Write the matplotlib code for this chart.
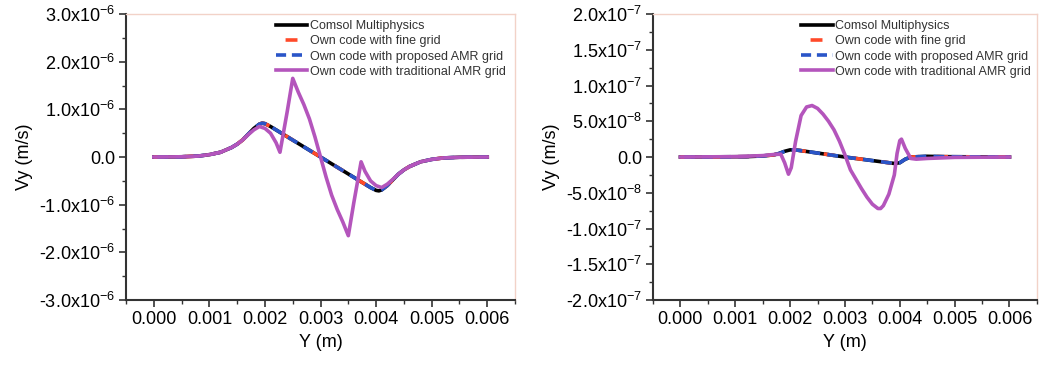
import matplotlib
matplotlib.use("Agg")
import matplotlib.pyplot as plt
from matplotlib.ticker import MultipleLocator
from matplotlib.lines import Line2D
import numpy as np

plt.rcParams['font.family'] = ['Liberation Sans', 'DejaVu Sans']
plt.rcParams['mathtext.fontset'] = 'custom'
plt.rcParams['mathtext.rm'] = 'Liberation Sans'
plt.rcParams['xtick.labelsize'] = 13
plt.rcParams['ytick.labelsize'] = 13

# ---------------- Left panel data (Vy in 1e-6 m/s) ----------------
left_comsol_y = [0, 0.0005, 0.0008, 0.001, 0.0012, 0.0014, 0.0015, 0.0016, 0.0017, 0.0018,
                 0.0019, 0.00195, 0.002, 0.0021, 0.003, 0.0039, 0.004, 0.00405, 0.0041,
                 0.0042, 0.0043, 0.0044, 0.0045, 0.0046, 0.0048, 0.005, 0.0052, 0.0055, 0.006]
left_comsol_v = [0, 0.005, 0.02, 0.05, 0.1, 0.2, 0.27, 0.36, 0.48, 0.6,
                 0.69, 0.71, 0.7, 0.64, 0.0, -0.64, -0.7, -0.71, -0.69,
                 -0.6, -0.48, -0.36, -0.27, -0.2, -0.1, -0.05, -0.02, -0.005, 0]
left_fine_y = list(left_comsol_y)
left_fine_v = list(left_comsol_v)
left_amr_y = list(left_comsol_y)
left_amr_v = list(left_comsol_v)
left_trad_y = [0, 0.0005, 0.0008, 0.001, 0.0012, 0.0014, 0.0015, 0.0016, 0.0017, 0.0018,
               0.0019, 0.002, 0.0021, 0.0022, 0.00227, 0.0024, 0.0025, 0.0026, 0.0027,
               0.0028, 0.0029, 0.003, 0.0031, 0.0032, 0.0033, 0.0034, 0.0035, 0.0036,
               0.00373, 0.0038, 0.0039, 0.004, 0.0041, 0.0042, 0.0043, 0.0044, 0.0045,
               0.0046, 0.0048, 0.005, 0.0052, 0.0055, 0.006]
left_trad_v = [0, 0.005, 0.02, 0.05, 0.1, 0.2, 0.27, 0.36, 0.47, 0.57,
               0.64, 0.6, 0.5, 0.3, 0.1, 0.95, 1.65, 1.36, 1.1,
               0.8, 0.42, 0.0, -0.42, -0.8, -1.1, -1.36, -1.65, -0.95,
               -0.1, -0.3, -0.5, -0.6, -0.64, -0.57, -0.47, -0.36, -0.27,
               -0.2, -0.1, -0.05, -0.02, -0.005, 0]

# ---------------- Right panel data (Vy in 1e-8 m/s) ----------------
right_comsol_y = [0, 0.0012, 0.0015, 0.0017, 0.0018, 0.0019, 0.002, 0.0021, 0.003,
                  0.0038, 0.0039, 0.004, 0.0041, 0.0042, 0.0045, 0.0048, 0.006]
right_comsol_v = [0, 0.05, 0.15, 0.3, 0.5, 0.8, 1.0, 1.0, 0.0,
                  -0.8, -0.9, -0.8, -0.3, 0.0, 0.1, 0.05, 0]
right_fine_y = list(right_comsol_y)
right_fine_v = list(right_comsol_v)
right_amr_y = list(right_comsol_y)
right_amr_v = list(right_comsol_v)
right_trad_y = [0, 0.001, 0.0015, 0.0017, 0.00183, 0.0019, 0.00197, 0.00202, 0.0021,
                0.0022, 0.0023, 0.0024, 0.0025, 0.0026, 0.0027, 0.0028, 0.0029, 0.003,
                0.0031, 0.0032, 0.0033, 0.0034, 0.0035, 0.0036, 0.00365, 0.0037, 0.0038,
                0.0039, 0.00395, 0.004, 0.00403, 0.0041, 0.0042, 0.0043, 0.0045, 0.005, 0.006]
right_trad_v = [0, 0.05, 0.2, 0.35, 0.4, -0.8, -2.4, -1.5, 2.2,
                5.8, 7.0, 7.2, 6.8, 6.0, 5.0, 3.8, 2.2, 0.3,
                -1.8, -3.1, -4.4, -5.6, -6.6, -7.2, -7.2, -6.8, -5.2,
                -2.5, 0.5, 2.3, 2.5, 1.2, -0.2, -0.3, -0.2, -0.05, 0]

labels = ["Comsol Multiphysics", "Own code with fine grid",
          "Own code with proposed AMR grid", "Own code with traditional AMR grid"]

C_BLACK, C_RED, C_BLUE, C_PURPLE = 'black', '#ff4a2a', '#2a55c8', '#b455bc'
LW = 2.6

fig = plt.figure(figsize=(10.39, 3.65), dpi=100)
axL = fig.add_axes([0.1213, 0.178, 0.3744, 0.7836])
axR = fig.add_axes([0.6285, 0.178, 0.3695, 0.7836])


def draw(ax, scale, cy, cv, fy, fv, ay, av, ty, tv):
    s = scale
    ax.plot(cy, np.array(cv) * s, color=C_BLACK, lw=LW, zorder=2)
    ax.plot(fy, np.array(fv) * s, color=C_RED, lw=LW, ls=(0, (3, 5)), zorder=3)
    ax.plot(ay, np.array(av) * s, color=C_BLUE, lw=LW, ls=(4, (3, 2)), zorder=4)
    ax.plot(ty, np.array(tv) * s, color=C_PURPLE, lw=LW, zorder=5)


draw(axL, 1e-6, left_comsol_y, left_comsol_v, left_fine_y, left_fine_v,
     left_amr_y, left_amr_v, left_trad_y, left_trad_v)
draw(axR, 1e-8, right_comsol_y, right_comsol_v, right_fine_y, right_fine_v,
     right_amr_y, right_amr_v, right_trad_y, right_trad_v)

legend_handles = [
    Line2D([], [], color=C_BLACK, lw=LW),
    Line2D([], [], color=C_RED, lw=LW, ls=(5.95, (3.3, 5.3))),
    Line2D([], [], color=C_BLUE, lw=LW, ls=(0, (2.8, 1.6))),
    Line2D([], [], color=C_PURPLE, lw=LW),
]

x_ticks = [0.000, 0.001, 0.002, 0.003, 0.004, 0.005, 0.006]
x_labels = ["0.000", "0.001", "0.002", "0.003", "0.004", "0.005", "0.006"]
left_yticks = [-3e-6, -2e-6, -1e-6, 0, 1e-6, 2e-6, 3e-6]
left_ylabels = [r"-3.0x10$^{\mathregular{-6}}$", r"-2.0x10$^{\mathregular{-6}}$",
                r"-1.0x10$^{\mathregular{-6}}$", "0.0", r"1.0x10$^{\mathregular{-6}}$",
                r"2.0x10$^{\mathregular{-6}}$", r"3.0x10$^{\mathregular{-6}}$"]
right_yticks = [-2e-7, -1.5e-7, -1e-7, -5e-8, 0, 5e-8, 1e-7, 1.5e-7, 2e-7]
right_ylabels = [r"-2.0x10$^{\mathregular{-7}}$", r"-1.5x10$^{\mathregular{-7}}$",
                 r"-1.0x10$^{\mathregular{-7}}$", r"-5.0x10$^{\mathregular{-8}}$", "0.0",
                 r"5.0x10$^{\mathregular{-8}}$", r"1.0x10$^{\mathregular{-7}}$",
                 r"1.5x10$^{\mathregular{-7}}$", r"2.0x10$^{\mathregular{-7}}$"]

TICKFS = 13
for ax, yt, yl, ylim, yminor in [(axL, left_yticks, left_ylabels, (-3e-6, 3e-6), 0.5e-6),
                                 (axR, right_yticks, right_ylabels, (-2e-7, 2e-7), 2.5e-8)]:
    ax.set_xlim(-0.0005, 0.0065)
    ax.set_ylim(*ylim)
    ax.set_xticks(x_ticks)
    ax.set_xticklabels(x_labels, fontsize=TICKFS)
    ax.set_yticks(yt)
    ax.set_yticklabels(yl, fontsize=TICKFS)
    ax.xaxis.set_minor_locator(MultipleLocator(0.0005))
    ax.yaxis.set_minor_locator(MultipleLocator(yminor))
    ax.tick_params(which='major', direction='out', length=5, width=1.2, labelsize=TICKFS,
                   color='#333333', pad=3, top=False, right=False)
    ax.tick_params(which='minor', direction='out', length=3, width=1.0, color='#333333',
                   top=False, right=False)
    ax.set_xlabel("Y (m)", fontsize=13, labelpad=4)
    ax.set_ylabel("Vy (m/s)", fontsize=13, labelpad=4)
    for sp in ['left', 'bottom']:
        ax.spines[sp].set_color('#333333')
        ax.spines[sp].set_linewidth(1.5)
    for sp in ['top', 'right']:
        ax.spines[sp].set_color('#f2d2c8')
        ax.spines[sp].set_linewidth(1.0)
    leg = ax.legend(legend_handles, labels, loc='upper left', bbox_to_anchor=(0.37, 1.0),
                    frameon=False, fontsize=9, handlelength=2.5, handletextpad=0.2,
                    labelspacing=0.25, borderaxespad=0.1)
    for t in leg.get_texts():
        t.set_color('#333333')

fig.savefig("out.png", dpi=100)
